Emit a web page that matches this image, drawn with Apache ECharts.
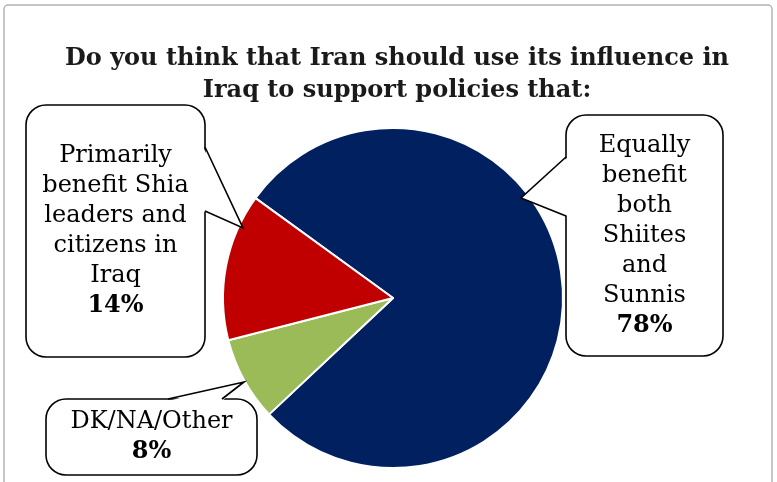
<!DOCTYPE html>
<html>
<head>
<meta charset="utf-8">
<script src="https://cdn.jsdelivr.net/npm/echarts@6/dist/echarts.min.js"></script>
<style>
  html, body { margin: 0; padding: 0; background: #fff; }
  #chart { width: 777px; height: 482px; }
</style>
</head>
<body>
<div id="chart"></div>
<script>
// Survey answers, in the order they are drawn clockwise
const categories = [
  'Equally benefit both Shiites and Sunnis',
  'DK/NA/Other',
  'Primarily benefit Shia leaders and citizens in Iraq'
];
const values = [78, 8, 14];
const sliceColors = ['#002060', '#9BBB59', '#C00000'];

// Wrapped text shown inside each callout
const calloutLines = [
  ['Equally', 'benefit', 'both', 'Shiites', 'and', 'Sunnis'],
  ['DK/NA/Other'],
  ['Primarily', 'benefit Shia', 'leaders and', 'citizens in', 'Iraq']
];

const titleText = 'Do you think that Iran should use its influence in\nIraq to support policies that:';

// Callout boxes: box rectangle, the edge the tail leaves from, tail base and tip
const callouts = [
  { box: [566, 115, 157, 241], edge: 'left',  base: [157, 216], tip: [521, 198] },
  { box: [46, 399, 211, 76],   edge: 'top',   base: [168, 222], tip: [244, 382] },
  { box: [26, 105, 179, 252],  edge: 'right', base: [147, 211], tip: [243, 228] }
];

const FONT = '"DejaVu Serif", Georgia, serif';

function calloutGraphics(c, i) {
  const [x, y, w, h] = c.box;
  let tailFill, tailLine;
  if (c.edge === 'left') {
    tailFill = [[x + 2, c.base[0]], c.tip, [x + 2, c.base[1]]];
    tailLine = [[x, c.base[0]], c.tip, [x, c.base[1]]];
  } else if (c.edge === 'right') {
    tailFill = [[x + w - 2, c.base[0]], c.tip, [x + w - 2, c.base[1]]];
    tailLine = [[x + w, c.base[0]], c.tip, [x + w, c.base[1]]];
  } else {
    tailFill = [[c.base[0], y + 2], c.tip, [c.base[1], y + 2]];
    tailLine = [[c.base[0], y], c.tip, [c.base[1], y]];
  }
  const text = calloutLines[i].join('\n') + '\n{b|' + values[i] + '%}';
  return [
    {
      type: 'rect', z: 10,
      shape: { x: x, y: y, width: w, height: h, r: 20 },
      style: { fill: '#fff', stroke: '#000', lineWidth: 1.6 }
    },
    {
      type: 'polygon', z: 11,
      shape: { points: tailFill },
      style: { fill: '#fff', stroke: null }
    },
    {
      type: 'polyline', z: 12,
      shape: { points: tailLine },
      style: { fill: null, stroke: '#000', lineWidth: 1.6 }
    },
    {
      type: 'text', z: 13,
      x: x + w / 2, y: y + h / 2,
      style: {
        text: text,
        font: '24px ' + FONT,
        fill: '#000',
        align: 'center',
        verticalAlign: 'middle',
        lineHeight: 30,
        rich: {
          b: { fontWeight: 'bold', fontSize: 24, fontFamily: FONT, lineHeight: 30, fill: '#000' }
        }
      }
    }
  ];
}

const chart = echarts.init(document.getElementById('chart'), null, { renderer: 'canvas' });

const graphics = [
  {
    type: 'rect', z: 0,
    shape: { x: 4, y: 5, width: 768, height: 490, r: 4 },
    style: { fill: null, stroke: '#b4b4b4', lineWidth: 1.5 }
  }
];
callouts.forEach((c, i) => graphics.push(...calloutGraphics(c, i)));

chart.setOption({
  animation: false,
  backgroundColor: '#fff',
  title: {
    text: titleText,
    left: 392,
    top: 38,
    textAlign: 'center',
    textStyle: {
      fontFamily: FONT,
      fontWeight: 'bold',
      fontSize: 24,
      lineHeight: 32,
      color: '#1a1a1a'
    }
  },
  series: [{
    type: 'pie',
    center: [393, 298],
    radius: 170,
    startAngle: 144,
    clockwise: true,
    label: { show: false },
    labelLine: { show: false },
    emphasis: { disabled: true },
    itemStyle: { borderColor: '#fff', borderWidth: 2 },
    data: categories.map((name, i) => ({
      name: name,
      value: values[i],
      itemStyle: { color: sliceColors[i] }
    }))
  }],
  graphic: { elements: graphics }
});
</script>
</body>
</html>
